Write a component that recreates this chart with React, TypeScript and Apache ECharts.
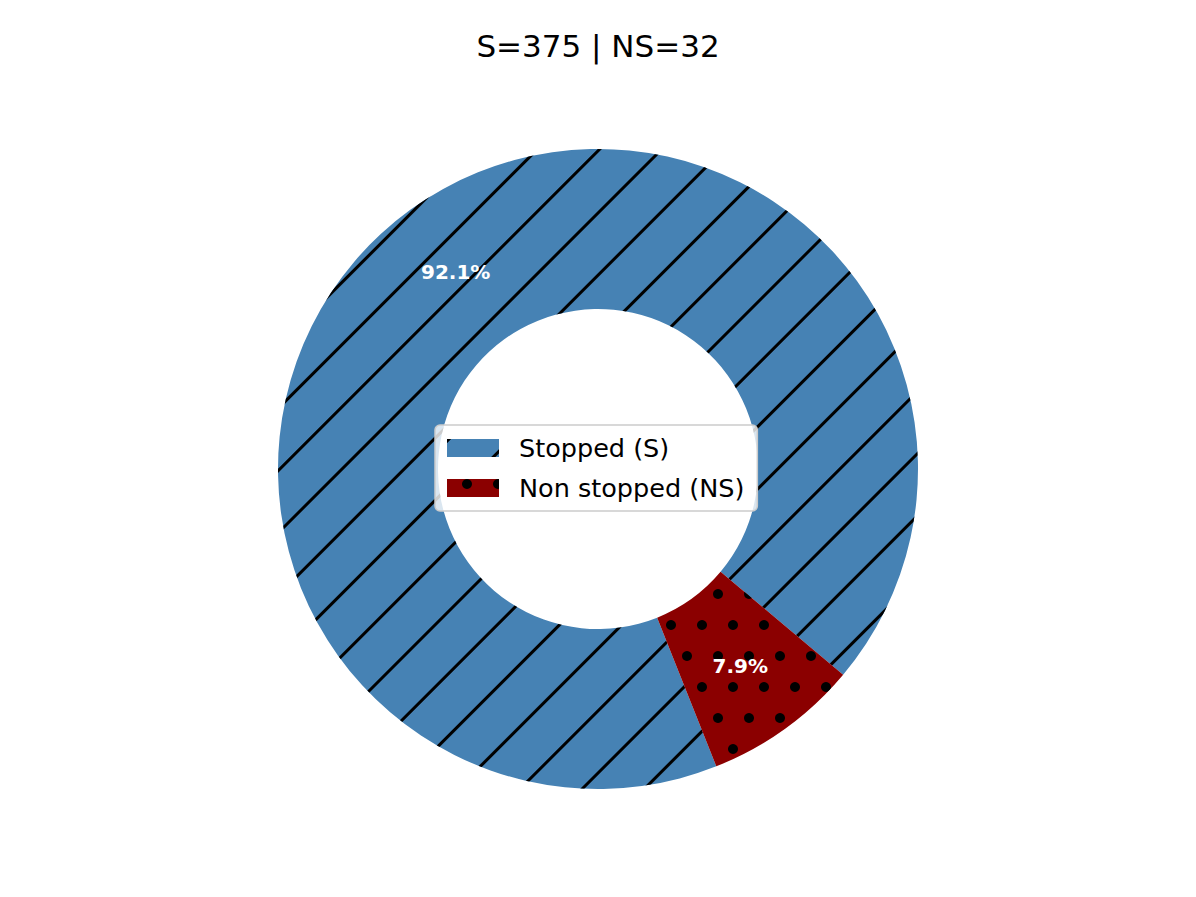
import React, { useEffect, useRef } from "react";
import * as echarts from "echarts";

const categories = ["Stopped (S)", "Non stopped (NS)"];
const counts = [375, 32];
const colors = ["#4682B4", "#8B0000"];
const titleText = `S=${counts[0]} | NS=${counts[1]}`;

const FONT = "DejaVu Sans";

export default function App() {
  const ref = useRef<HTMLDivElement>(null);
  useEffect(() => {
    if (!ref.current) return;
    const chart = echarts.init(ref.current, null, { renderer: "svg" });
    const total = counts.reduce((a, b) => a + b, 0);
    const decals = [
      {
        symbol: "rect",
        color: "#000",
        dashArrayX: [1, 0],
        dashArrayY: [3, 41],
        rotation: -Math.PI / 4,
      },
      {
        symbol: "circle",
        color: "#000",
        symbolSize: 1,
        dashArrayX: [
          [10, 21],
          [0, 15, 10, 6],
        ],
        dashArrayY: [10, 21],
        rotation: 0,
      },
    ];
    chart.setOption({
      animation: false,
      title: {
        text: titleText,
        left: "center",
        top: 25,
        textStyle: { fontFamily: FONT, fontSize: 31, fontWeight: "normal", color: "#000" },
      },
      legend: {
        orient: "vertical",
        left: 435,
        top: 425,
        itemWidth: 52,
        itemHeight: 18,
        itemGap: 14,
        padding: [10, 13, 10, 12],
        icon: "rect",
        backgroundColor: "rgba(255,255,255,0.8)",
        borderColor: "#cccccc",
        borderWidth: 1.5,
        borderRadius: 5,
        selectedMode: false,
        textStyle: {
          fontFamily: FONT,
          fontSize: 25.5,
          lineHeight: 25,
          color: "#000",
          padding: [0, 0, 0, 15],
        },
        data: categories,
      },
      series: [
        {
          type: "pie",
          center: [598, 469],
          radius: [160, 320],
          startAngle: -40,
          clockwise: false,
          silent: true,
          avoidLabelOverlap: false,
          label: {
            show: true,
            position: "inside",
            formatter: (p: any) => ((p.value / total) * 100).toFixed(1) + "%",
            color: "#fff",
            fontFamily: FONT,
            fontWeight: "bold",
            fontSize: 20,
          },
          labelLine: { show: false },
          emphasis: { disabled: true },
          data: categories.map((name, i) => ({
            name,
            value: counts[i],
            itemStyle: { color: colors[i], decal: decals[i] },
          })),
        },
      ],
    });
    return () => chart.dispose();
  }, []);
  return (
    <div
      ref={ref}
      style={{ position: "fixed", left: 0, top: 0, width: 1196, height: 897, background: "#fff" }}
    />
  );
}
